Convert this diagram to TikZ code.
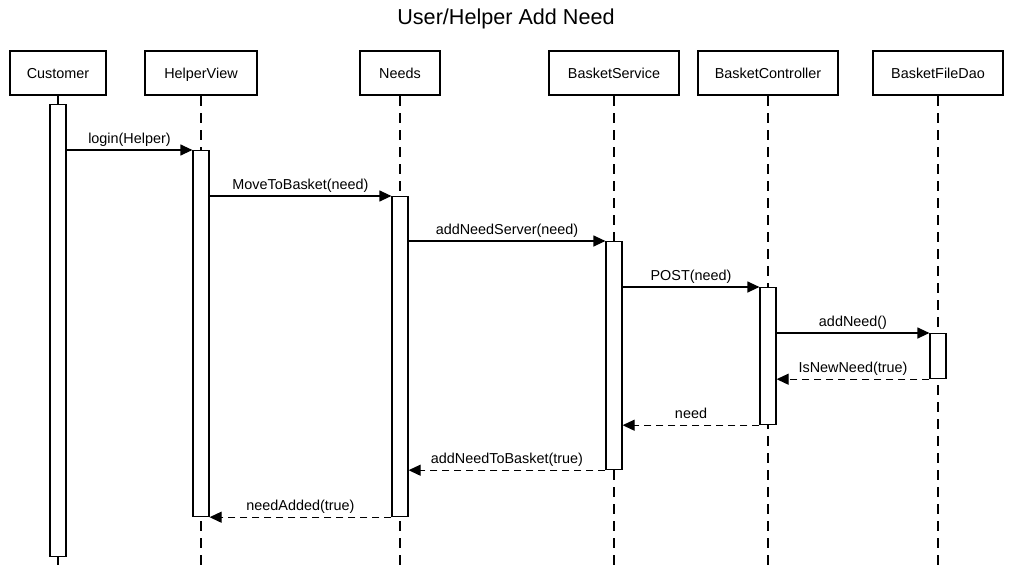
\documentclass[tikz,border=0pt]{standalone}
\usepackage{fontspec}
\setmainfont{Liberation Sans}
\usetikzlibrary{arrows.meta}

\tikzset{
	actor/.style={draw, line width=2.4pt, minimum height=44pt, inner sep=0pt, text height=12pt, text depth=0pt, font=\fontsize{14.4}{17}\selectfont},
	bar/.style={draw, fill=white, line width=1.2pt, minimum width=16pt, anchor=north, inner sep=0pt},
	lifeline/.style={line width=1.2pt, dash pattern=on 10pt off 7pt},
	call/.style={line width=1.2pt, -{Triangle[length=12pt, width=11pt]}},
	reply/.style={call, dash pattern=on 7pt off 5pt},
	lbl/.style={midway, anchor=base, yshift=6.5pt, font=\fontsize{14.4}{17}\selectfont}
}

\begin{document}
\begin{tikzpicture}[x=1pt, y=-1pt]
	\useasboundingbox (0,0) rectangle (1011,572);
	\node[anchor=base, font=\fontsize{21.6}{26}\selectfont] (title) at (506,25) {User/Helper Add Need};

% participants
	\node[actor, minimum width=96pt] (customer) at (58,73) {Customer};
	\node[actor, minimum width=112pt] (helperview) at (201,73) {HelperView};
	\node[actor, minimum width=80pt] (needs) at (400,73) {Needs};
	\node[actor, minimum width=130pt] (service) at (614,73) {BasketService};
	\node[actor, minimum width=140pt] (controller) at (768,73) {BasketController};
	\node[actor, minimum width=130pt] (filedao) at (938,73) {BasketFileDao};

% lifelines
	\foreach \p in {customer, helperview, needs, service, controller, filedao}
		\draw[lifeline] (\p.south) -- (\p.south |- 0,572);

% activation bars
	\node[bar, minimum height=452pt] (customerbar) at (58,104) {};
	\node[bar, minimum height=366pt] (helperbar) at (201,150) {};
	\node[bar, minimum height=320pt] (needsbar) at (400,196) {};
	\node[bar, minimum height=228pt] (servicebar) at (614,241) {};
	\node[bar, minimum height=137pt] (controllerbar) at (768,287) {};
	\node[bar, minimum height=45pt] (daobar) at (938,333) {};

% calls
	\draw[call] (customerbar.east |- helperbar.north) -- (helperbar.north west) node[lbl] {login(Helper)};
	\draw[call] (helperbar.east |- needsbar.north) -- (needsbar.north west) node[lbl] {MoveToBasket(need)};
	\draw[call] (needsbar.east |- servicebar.north) -- (servicebar.north west) node[lbl] {addNeedServer(need)};
	\draw[call] (servicebar.east |- controllerbar.north) -- (controllerbar.north west) node[lbl] {POST(need)};
	\draw[call] (controllerbar.east |- daobar.north) -- (daobar.north west) node[lbl] {addNeed()};

% replies
	\draw[reply] (daobar.south west) -- (controllerbar.east |- daobar.south) node[lbl] {IsNewNeed(true)};
	\draw[reply] (controllerbar.south west) -- (servicebar.east |- controllerbar.south) node[lbl] {need};
	\draw[reply] (servicebar.south west) -- (needsbar.east |- servicebar.south) node[lbl] {addNeedToBasket(true)};
	\draw[reply] (needsbar.south west) -- (helperbar.east |- needsbar.south) node[lbl] {needAdded(true)};
\end{tikzpicture}
\end{document}
